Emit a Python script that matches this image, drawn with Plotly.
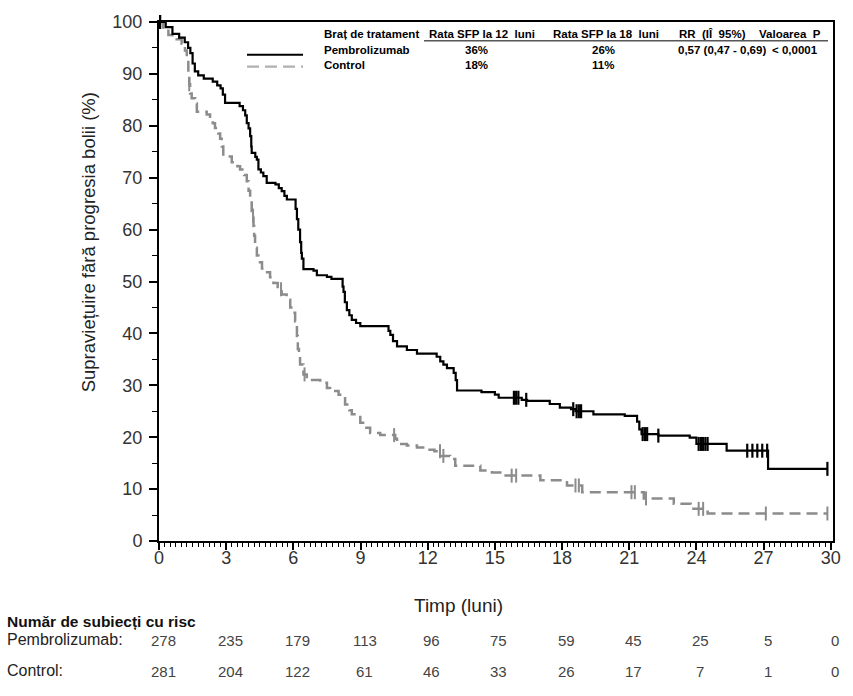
import plotly.graph_objects as go

# ---------------- data ----------------
pem_t = [0, 0.3, 0.6, 0.9, 1.15, 1.3, 1.4, 1.5, 1.6, 1.75, 2.0, 2.4, 2.6, 2.75, 2.85, 2.95,
         3.6, 3.75, 3.85, 3.92, 4.0, 4.07, 4.12, 4.14, 4.3, 4.37, 4.44, 4.55, 4.66, 4.81,
         5.2, 5.35, 5.48, 5.6, 5.71, 6.1, 6.16, 6.22, 6.3, 6.35, 6.38, 6.45, 6.9, 7.05, 7.5,
         7.7, 8.2, 8.24, 8.3, 8.39, 8.5, 8.61, 8.8, 8.99, 10.25, 10.33, 10.45, 10.63, 11.07,
         11.52, 12.4, 12.56, 12.7, 12.86, 13.16, 13.25, 13.31, 14.4, 15.0, 15.17, 16.2, 16.44,
         17.45, 17.9, 18.4, 18.6, 19.4, 20.8, 21.35, 21.45, 21.55, 22.3, 23.7, 24.0, 25.35,
         27.2, 29.85]
pem_s = [100, 99, 97.7, 97, 96.1, 95, 94, 92, 90.5, 89.7, 89.1, 88.5, 87.8, 87.2, 86, 84.4,
         83.8, 83, 82, 80.5, 79.5, 78, 76, 74.8, 74, 73.5, 71.6, 71, 70.3, 69,
         68.7, 68, 67.4, 66.5, 65.8, 64, 62, 60, 57.6, 55.5, 54.4, 52.4, 52.1, 51.2, 50.9,
         50.5, 49, 48, 46, 44.5, 43.5, 42.6, 42, 41.4, 40.5, 39.7, 38.5, 37.5, 36.8,
         36.1, 35.5, 34.6, 34, 33.3, 32.4, 31, 29, 28.7, 28.2, 27.6, 27.2, 27,
         26.4, 25.7, 25.4, 25, 24.4, 24.1, 23, 21.5, 20.6, 20.3, 19.9, 18.7, 17.4,
         13.9, 13.9]
pem_cens = [0.05, 15.85, 15.95, 16.05, 16.4, 18.5, 18.65, 18.75, 18.85, 21.6, 21.7, 21.8,
            22.3, 24.1, 24.2, 24.3, 24.4, 24.5, 26.27, 26.5, 26.72, 26.94, 27.16, 29.85]

ctl_t = [0, 0.19, 0.42, 0.6, 0.79, 1.01, 1.16, 1.24, 1.31, 1.35, 1.39, 1.46, 1.61, 1.69,
         2.13, 2.28, 2.4, 2.5, 2.65, 2.73, 2.8, 2.87, 3.25, 3.5, 3.62, 3.8, 3.92, 4.0, 4.07,
         4.14, 4.22, 4.25, 4.29, 4.37, 4.44, 4.6, 4.74, 4.96, 5.11, 5.3, 5.48, 5.7, 5.86, 6.0,
         6.08, 6.16, 6.2, 6.25, 6.3, 6.45, 6.6, 7.2, 7.5, 7.64, 8.02, 8.31, 8.5, 8.61, 8.99,
         9.2, 9.43, 9.88, 10.55, 10.63, 11.07, 11.52, 11.97, 12.3, 12.56, 13.0, 13.23, 14.35,
         14.87, 15.39, 17.03, 18.22, 18.9, 21.65, 22.99, 23.74, 24.5, 29.85]
ctl_s = [100, 98.7, 97.5, 97, 96.7, 95.8, 94.5, 92.6, 90, 88, 86.2, 85.3, 84.3, 82.7,
         82.2, 81.1, 80.5, 79.6, 78.5, 77.5, 76, 74.1, 73, 72.2, 71.6, 70.5, 69.3, 67.5, 65.2,
         62.7, 60.7, 58.8, 56.5, 55, 53.7, 52.5, 51.8, 50.8, 49.7, 48.5, 47.5, 46.5, 45, 44,
         42.3, 39.5, 37, 35.5, 34, 32.1, 31, 30.5, 29.5, 28.9, 28.2, 26.3, 25.2, 24.4, 22.8,
         21.8, 20.8, 20.4, 19.7, 18.7, 18.4, 18, 17.6, 17.3, 16.4, 15.8, 14.5, 13.6,
         13.2, 12.6, 11.7, 10.7, 9.4, 8.2, 7.2, 6.2, 5.3, 5.3]
ctl_cens = [0.05, 1.35, 4.2, 5.45, 6.5, 10.5, 12.55, 12.7, 15.75, 15.95, 18.6, 18.75,
            21.1, 21.25, 21.75, 24.1, 24.3, 27.1, 29.85]

risk_times = [0, 3, 6, 9, 12, 15, 18, 21, 24, 27, 30]
risk_pem = [278, 235, 179, 113, 96, 75, 59, 45, 25, 5, 0]
risk_ctl = [281, 204, 122, 61, 46, 33, 26, 17, 7, 1, 0]

table_header = ["Braț de tratament", "Rata SFP la 12  luni", "Rata SFP la 18  luni",
                "RR  (IÎ  95%)", "Valoarea  P"]
table_pem = ["Pembrolizumab", "36%", "26%", "0,57 (0,47 - 0,69)", "< 0,0001"]
table_ctl = ["Control", "18%", "11%", "", ""]

BLACK = "#000000"
GRAY = "#8c8c8c"


def step_value(ts, ss, t):
    v = ss[0]
    for ti, si in zip(ts, ss):
        if ti <= t:
            v = si
    return v


# ---------------- geometry ----------------
W, H = 853, 696
L, R, T, B = 159, 833, 18, 541


def px(x):
    return (x - L) / (R - L)


def py(y):
    return (B - y) / (B - T)


fig = go.Figure()

fig.add_trace(go.Scatter(x=ctl_t, y=ctl_s, mode="lines", line_shape="hv",
                         line=dict(color=GRAY, width=2.5, dash="11px,6px"),
                         cliponaxis=False, showlegend=False))
fig.add_trace(go.Scatter(x=ctl_cens, y=[step_value(ctl_t, ctl_s, t) for t in ctl_cens],
                         mode="markers", cliponaxis=False, showlegend=False,
                         marker=dict(symbol="line-ns", size=10,
                                     line=dict(color=GRAY, width=2))))
fig.add_trace(go.Scatter(x=pem_t, y=pem_s, mode="lines", line_shape="hv",
                         line=dict(color=BLACK, width=2.2),
                         cliponaxis=False, showlegend=False))
fig.add_trace(go.Scatter(x=pem_cens, y=[step_value(pem_t, pem_s, t) for t in pem_cens],
                         mode="markers", cliponaxis=False, showlegend=False,
                         marker=dict(symbol="line-ns", size=10,
                                     line=dict(color=BLACK, width=2.2))))

TICKFONT = dict(family="Liberation Sans, Arial, sans-serif", size=18, color="#333333")

fig.update_xaxes(range=[0, 30.1], tickvals=risk_times, ticks="outside", ticklen=7,
                 tickwidth=1.5, tickcolor="black", showline=True, linecolor="black",
                 linewidth=2, mirror=True, showgrid=False, zeroline=False,
                 tickfont=TICKFONT, ticklabelstandoff=-8,
                 minor=dict(dtick=0.25, ticks="outside", ticklen=4, tickcolor="black",
                            tickwidth=1, showgrid=False))
fig.update_yaxes(range=[0, 100], tickvals=list(range(0, 101, 10)), ticks="outside",
                 ticklen=8, tickwidth=1.5, tickcolor="black", showline=True,
                 linecolor="black", linewidth=2, mirror=True, showgrid=False,
                 zeroline=False, tickfont=TICKFONT, ticklabelstandoff=3,
                 minor=dict(dtick=5, ticks="outside", ticklen=5, tickcolor="black",
                            tickwidth=1.2, showgrid=False))

ann = []
# axis titles
ann.append(dict(text="Supraviețuire fără progresia bolii (%)", textangle=-90,
                x=px(88), y=py(240), xref="paper", yref="paper", showarrow=False,
                xanchor="center", yanchor="middle",
                font=dict(family="Liberation Sans, Arial", size=18.5, color="#222222")))
ann.append(dict(text="Timp (luni)", x=px(458), y=py(606), xref="paper", yref="paper",
                showarrow=False, xanchor="center", yanchor="middle",
                font=dict(family="Liberation Sans, Arial", size=19, color="#222222")))

# risk table
NARROW = "Liberation Sans Narrow, Arial Narrow, Liberation Sans, Arial"
ann.append(dict(text="<b>Număr de subiecți cu risc</b>", x=px(5), y=py(622),
                xref="paper", yref="paper", showarrow=False, xanchor="left",
                yanchor="middle", font=dict(family=NARROW, size=15.5, color="#111111")))
ann.append(dict(text="Pembrolizumab:", x=px(5), y=py(640), xref="paper", yref="paper",
                showarrow=False, xanchor="left", yanchor="middle",
                font=dict(family=NARROW, size=16, color="#222222")))
ann.append(dict(text="Control:", x=px(5), y=py(672), xref="paper", yref="paper",
                showarrow=False, xanchor="left", yanchor="middle",
                font=dict(family=NARROW, size=16, color="#222222")))
NUMFONT = dict(family="Liberation Sans Narrow, Liberation Sans, Arial", size=15,
               color="#444444")
for t, a, b in zip(risk_times, risk_pem, risk_ctl):
    ann.append(dict(text=str(a), x=t, y=py(641), xref="x", yref="paper", xshift=4,
                    showarrow=False, xanchor="center", yanchor="middle", font=NUMFONT))
    ann.append(dict(text=str(b), x=t, y=py(673), xref="x", yref="paper", xshift=4,
                    showarrow=False, xanchor="center", yanchor="middle", font=NUMFONT))

# summary table (top right)
TBLFONT = dict(family=NARROW, size=11.5, color="#000000")
row_y = [30, 46, 61]
hdr_pos = [(322, "left"), (482, "center"), (606, "center"), (677, "left"), (757, "left")]
body_pos = [(322, "left"), (476, "center"), (603, "center"), (676, "left"), (770, "left")]
for r, row in enumerate([table_header, table_pem, table_ctl]):
    pos = hdr_pos if r == 0 else body_pos
    for c, txt in enumerate(row):
        if not txt:
            continue
        xpos, anc = pos[c]
        ann.append(dict(text="<b>%s</b>" % txt, x=px(xpos), y=py(row_y[r]),
                        xref="paper", yref="paper", showarrow=False, xanchor=anc,
                        yanchor="middle", font=TBLFONT))

shapes = [
    dict(type="line", xref="paper", yref="paper", x0=px(424), x1=px(828), y0=py(37),
         y1=py(37), line=dict(color="black", width=1)),
    dict(type="line", xref="paper", yref="paper", x0=px(247), x1=px(303), y0=py(51),
         y1=py(51), line=dict(color="black", width=2.2)),
    dict(type="line", xref="paper", yref="paper", x0=px(247), x1=px(303), y0=py(63),
         y1=py(63), line=dict(color="#b0b0b0", width=2.2, dash="12px,6px")),
]

fig.update_layout(width=W, height=H, margin=dict(l=L, r=W - R, t=T, b=H - B),
                  plot_bgcolor="white", paper_bgcolor="white", annotations=ann,
                  shapes=shapes, showlegend=False)

fig.write_html("out.html")
